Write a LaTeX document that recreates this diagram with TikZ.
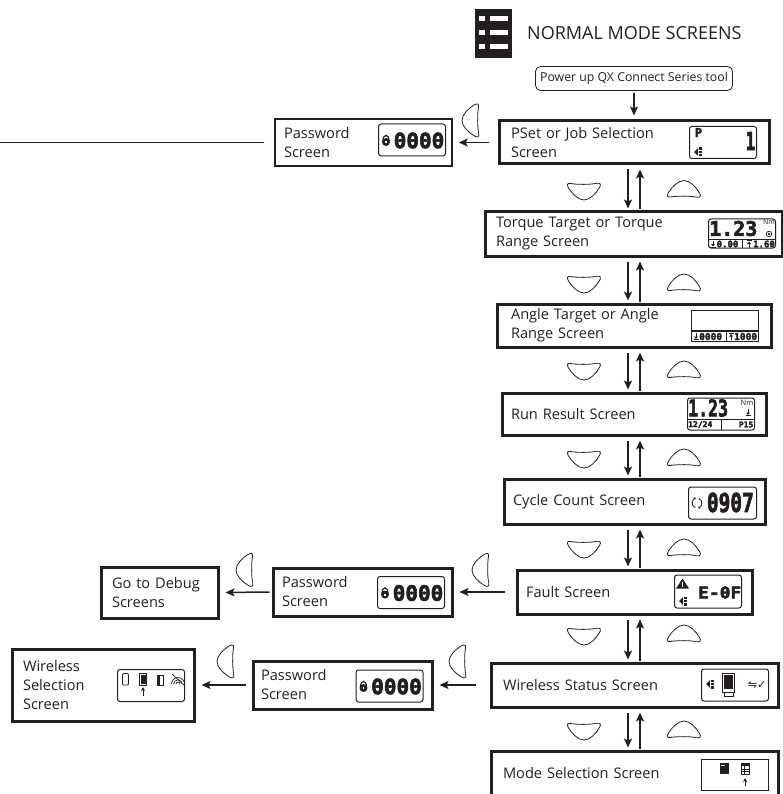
\documentclass[tikz,border=0pt]{standalone}
\usepackage{fontspec}
\setmainfont{Open Sans}
\newfontfamily\lcdfont[FakeBold=3]{DejaVu Sans Mono Bold}
\newfontfamily\lcdsym{DejaVu Sans}
\usetikzlibrary{arrows.meta}
\definecolor{ink}{HTML}{231F20}
\tikzset{
  screenbox/.style n args={3}{draw=ink, line width=3pt, inner ysep=0pt, inner xsep=#3pt,
    text width=#1pt-2*#3pt, minimum height=#2pt, align=left, text=ink,
    font=\fontsize{14.6}{19}\selectfont},
  thinbox/.style={line width=1.5pt},
  lcdframe/.style={draw=ink, line width=1pt, rounded corners=2.5pt, inner sep=0pt},
  lcdsquare/.style={draw=ink, line width=1pt, inner sep=0pt},
  lcdtxt/.style={inner sep=0pt, text=ink, font=\lcdfont\fontsize{#1}{#1}\selectfont},
  lcdsmall/.style={inner sep=0pt, text=ink, font=\fontsize{#1}{#1}\selectfont},
  lcdicon/.style={inner sep=0pt, text=ink, font=\lcdsym\fontsize{#1}{#1}\selectfont},
  flow/.style={draw=ink, line width=1.5pt, -{Stealth[length=9pt,width=8pt,inset=2pt]}},
  dnflow/.style={flow, shorten <=4pt, shorten >=2pt},
  upflow/.style={flow, shorten <=1pt, shorten >=4pt},
  sideflow/.style={flow, shorten <=#1pt, shorten >=6pt},
  softkey/.pic={
    \draw[draw=ink, line width=0.8pt] (-13.5,-7.5) .. controls (-7,-6.3) and (7,-6.3) .. (13,-7.8)
      .. controls (16,-8.5) and (17.5,-6.5) .. (15.5,-3.5) .. controls (12,2.5) and (6,9) .. (0,9)
      .. controls (-6,9) and (-12,2.5) .. (-15.5,-3) .. controls (-17.5,-6.5) and (-16.5,-8.2) .. (-13.5,-7.5) -- cycle;
  },
  antenna/.pic={
    \fill[ink] (-4,0) -- (0,-4) -- (0,4) -- cycle;
    \fill[ink] (0.8,-4.5) rectangle (3.6,-2.3);
    \fill[ink] (0.8,-1.1) rectangle (3.6,1.1);
    \fill[ink] (0.8,2.3) rectangle (3.6,4.5);
  },
  lowmark/.pic={
    \draw[ink, line width=0.8pt] (0,-3.5) -- (0,1);
    \fill[ink] (-2,0) -- (2,0) -- (0,2.5) -- cycle;
    \draw[ink, line width=0.8pt] (-2.5,3.2) -- (2.5,3.2);
  },
  highmark/.pic={
    \draw[ink, line width=0.8pt] (0,3.5) -- (0,-1);
    \fill[ink] (-2,0) -- (2,0) -- (0,-2.5) -- cycle;
    \draw[ink, line width=0.8pt] (-2.5,-3.2) -- (2.5,-3.2);
  },
  passlcd/.pic={
    \node[lcdframe, minimum width=67pt, minimum height=32pt] (-frame) at (0,0) {};
    \fill[ink] (-26,2) circle (4pt);
    \draw[ink, line width=1.2pt] (-29,1) .. controls (-29,-6.5) and (-23,-6.5) .. (-23,1);
    \fill[white] (-26.6,1) rectangle (-25.4,3.2);
    \node[lcdtxt=21, anchor=east] (-digits) at (32.5,0.5) {0000};
  },
}
\begin{document}
\begin{tikzpicture}[x=1pt,y=-1pt]
    \useasboundingbox (0,0) rectangle (782,794);

    \fill[ink] (475,9) rectangle (512,58);
    \fill[white] (479,16) rectangle (485,21);
    \fill[white] (490,16) rectangle (508,21);
    \fill[white] (479,30) rectangle (485,35);
    \fill[white] (490,30) rectangle (508,35);
    \fill[white] (479,44) rectangle (485,49);
    \fill[white] (490,44) rectangle (508,49);
    \node[anchor=west, inner sep=0pt, text=ink, font=\fontsize{18}{22}\selectfont] (title) at (527,33) {NORMAL MODE SCREENS};

    \node[draw=ink, line width=0.8pt, rounded corners=5pt, inner sep=0pt, minimum width=197pt, minimum height=24pt, text=ink, font=\fontsize{12.3}{15}\selectfont] (powerup) at (634,78.5) {Power up QX Connect Series tool};

    \node[screenbox={270}{43}{12}] (pset) at (634,142.5) {PSet or Job Selection\\Screen};
    \node[screenbox={297}{44}{11}] (torque) at (633.5,234) {Torque Target or Torque\\Range Screen};
    \node[screenbox={274}{43}{14}] (angle) at (634,325.5) {Angle Target or Angle\\Range Screen};
    \node[screenbox={264}{42}{9}] (runresult) at (634,414) {Run Result Screen};
    \node[screenbox={261}{45}{9}] (cycle) at (634.5,501.5) {Cycle Count Screen};
    \node[screenbox={235}{44}{9}] (fault) at (634.5,592) {Fault Screen};
    \node[screenbox={287}{44}{12}] (wstatus) at (634.5,685) {Wireless Status Screen};
    \node[screenbox={287}{46}{12}] (modesel) at (634.5,774) {\raisebox{3pt}{Mode Selection Screen}};
    \node[screenbox={177}{47}{9}, thinbox] (passa) at (363.5,142.5) {Password\\Screen};
    \node[screenbox={179}{48}{9}] (passb) at (362.5,592) {Password\\Screen};
    \node[screenbox={179}{48}{8}] (passc) at (342.5,685) {Password\\Screen};
    \node[screenbox={117}{51}{11}] (debug) at (159.5,592.5) {Go to Debug\\Screens};
    \node[screenbox={182}{72}{11}] (wselect) at (103,685) {Wireless\\Selection\\Screen};

    \coordinate (dnline) at (628,0);
    \coordinate (upline) at (640,0);
    \coordinate (offpage) at (0,142.5);

    \draw[flow, shorten <=2pt, shorten >=4pt] (powerup.south) -- (pset.north);
    \draw[dnflow] (pset.south -| dnline) -- (torque.north -| dnline);
    \draw[upflow] (torque.north -| upline) -- (pset.south -| upline);
    \draw[dnflow] (torque.south -| dnline) -- (angle.north -| dnline);
    \draw[upflow] (angle.north -| upline) -- (torque.south -| upline);
    \draw[dnflow] (angle.south -| dnline) -- (runresult.north -| dnline);
    \draw[upflow] (runresult.north -| upline) -- (angle.south -| upline);
    \draw[dnflow] (runresult.south -| dnline) -- (cycle.north -| dnline);
    \draw[upflow] (cycle.north -| upline) -- (runresult.south -| upline);
    \draw[dnflow] (cycle.south -| dnline) -- (fault.north -| dnline);
    \draw[upflow] (fault.north -| upline) -- (cycle.south -| upline);
    \draw[dnflow] (fault.south -| dnline) -- (wstatus.north -| dnline);
    \draw[upflow] (wstatus.north -| upline) -- (fault.south -| upline);
    \draw[dnflow] (wstatus.south -| dnline) -- (modesel.north -| dnline);
    \draw[upflow] (modesel.north -| upline) -- (wstatus.south -| upline);
    \draw[sideflow=9] (pset.west) -- (passa.east);
    \draw[sideflow=11] (fault.west) -- (passb.east);
    \draw[sideflow=2] (passb.west) -- (debug.east);
    \draw[sideflow=14] (wstatus.west) -- (passc.east);
    \draw[sideflow=6] (passc.west) -- (wselect.east);
    \draw[draw=ink, line width=1.5pt, shorten <=10pt] (passa.west) -- (offpage);

    \pic at (584,191) {softkey};
    \pic at (584,284) {softkey};
    \pic at (584,371) {softkey};
    \pic at (584,459) {softkey};
    \pic at (584,549) {softkey};
    \pic at (584,636) {softkey};
    \pic at (584,731) {softkey};
    \pic[yscale=-1] at (684,189.5) {softkey};
    \pic[yscale=-1] at (684,283) {softkey};
    \pic[yscale=-1] at (684,370) {softkey};
    \pic[yscale=-1] at (684,458) {softkey};
    \pic[yscale=-1] at (684,548) {softkey};
    \pic[yscale=-1] at (684,634) {softkey};
    \pic[yscale=-1] at (684,730) {softkey};
    \pic[rotate=-90] at (471,120.5) {softkey};
    \pic[rotate=-90] at (481,570) {softkey};
    \pic[rotate=-90] at (245,570) {softkey};
    \pic[rotate=-90] at (458,661.5) {softkey};
    \pic[rotate=-90] at (226,661.5) {softkey};

    \pic (passlcda) at (412,140) {passlcd};
    \pic (passlcdb) at (411,592.5) {passlcd};
    \pic (passlcdc) at (389.5,686) {passlcd};

    \node[lcdframe, minimum width=67pt, minimum height=32pt] (psetlcd) at (723,142.5) {};
    \node[lcdtxt=12] (psetp) at (698.5,132.5) {P};
    \node[lcdtxt=25, anchor=east, xscale=0.65, transform shape] (psetnum) at (755.5,141) {1};
    \pic at (698,152) {antenna};

    \node[lcdframe, minimum width=67pt, minimum height=29pt] (torquelcd) at (742,233.5) {};
    \node[lcdtxt=20, anchor=west] (torqueval) at (709,228.5) {1.23};
    \node[lcdsmall=7, anchor=east] (torqueunit) at (775,222.5) {Nm};
    \draw[ink, line width=0.7pt] (769,234) circle (2.8pt);
    \fill[ink] (769,234) circle (1.4pt);
    \draw[ink, line width=1pt] (708.5,239.5) -- (775.5,239.5);
    \draw[ink, line width=1pt] (742,239.5) -- (742,248);
    \pic at (713,244) {lowmark};
    \node[lcdtxt=9, anchor=west] (torquelow) at (716.5,244) {0.00};
    \pic at (749,244) {highmark};
    \node[lcdtxt=9, anchor=east] (torquehigh) at (775,244) {1.60};

    \node[lcdsquare, minimum width=67pt, minimum height=31pt] (anglelcd) at (725,325.5) {};
    \draw[ink, line width=1.5pt] (691.5,331) -- (758.5,331);
    \draw[ink, line width=1pt] (726,331) -- (726,341);
    \pic at (696,336.5) {lowmark};
    \node[lcdtxt=9.5, anchor=west] (anglelow) at (699,336.5) {0000};
    \pic at (731,336.5) {highmark};
    \node[lcdtxt=9.5, anchor=west] (anglehigh) at (734,336.5) {1000};

    \node[lcdframe, minimum width=67pt, minimum height=32pt] (runlcd) at (721,414) {};
    \node[lcdtxt=23, anchor=west, xscale=0.72, transform shape] (runval) at (688,408) {1.23};
    \node[lcdsmall=7.5, anchor=east] (rununit) at (753.5,403) {Nm};
    \pic at (748,412.5) {lowmark};
    \draw[ink, line width=1pt] (687.5,419) -- (754.5,419);
    \draw[ink, line width=1pt] (721,419) -- (721,430);
    \node[lcdtxt=8, anchor=west] (runcount) at (688,424.5) {12/24};
    \node[lcdtxt=8, anchor=east] (runpset) at (753.5,424.5) {P15};

    \node[lcdframe, minimum width=68pt, minimum height=32pt] (cyclelcd) at (722.5,503) {};
    \draw[ink, line width=0.8pt, -{Stealth[length=2.5pt,width=2.5pt]}] (695.3,507.7) arc[start angle=250, end angle=100, radius=5pt];
    \draw[ink, line width=0.8pt, -{Stealth[length=2.5pt,width=2.5pt]}] (698.7,498.3) arc[start angle=70, end angle=-80, radius=5pt];
    \node[lcdtxt=26, anchor=east, xscale=0.75, transform shape] (cycleval) at (754,502.5) {0907};

    \node[lcdframe, minimum width=67pt, minimum height=33pt] (faultlcd) at (708,591.5) {};
    \fill[ink] (682.5,578.5) -- (689,588.5) -- (676,588.5) -- cycle;
    \fill[white] (682,582) rectangle (683,585.5);
    \fill[white] (682,586.2) rectangle (683,587.2);
    \pic at (683,601) {antenna};
    \node[lcdtxt=16, anchor=east, xscale=1.12, transform shape] (faultcode) at (741.5,592.5) {E-0F};

    \node[lcdframe, minimum width=67pt, minimum height=32pt] (wstatuslcd) at (735,685) {};
    \pic at (710,684) {antenna};
    \draw[ink, line width=0.7pt] (722.5,673.5) rectangle (734.5,692);
    \fill[ink] (724,675) rectangle (733,689);
    \draw[ink, line width=0.7pt] (724,692) -- (724,696) -- (733,696) -- (733,692);
    \node[lcdicon=11, anchor=east] (wstatuslink) at (766.5,685) {⇋✓};

    \node[lcdsquare, minimum width=67pt, minimum height=31pt] (modelcd) at (734.5,774.5) {};
    \fill[ink] (720,763) rectangle (729,774);
    \fill[white] (721,764.5) rectangle (725,765.5);
    \draw[ink, line width=0.8pt] (741.5,763.5) rectangle (749.5,774);
    \fill[ink] (741.5,763.5) rectangle (749.5,766);
    \draw[ink, line width=0.6pt] (741.5,769) -- (749.5,769);
    \draw[ink, line width=0.6pt] (741.5,771.5) -- (749.5,771.5);
    \draw[ink, line width=0.6pt] (744,766) -- (744,774);
    \coordinate (modetip) at (745,778);
    \coordinate (modetail) at (745,786);
    \draw[ink, line width=1pt, -{Stealth[length=4pt,width=4pt]}] (modetail) -- (modetip);

    \node[lcdframe, minimum width=67pt, minimum height=32pt] (wselectlcd) at (151,685.5) {};
    \draw[ink, line width=0.7pt, rounded corners=1pt] (122.5,673.5) rectangle (128.5,685);
    \draw[ink, line width=0.7pt] (139.5,673.5) rectangle (146.5,685);
    \fill[ink] (140.5,674.5) rectangle (145.5,684);
    \draw[ink, line width=0.7pt] (157.5,675.5) rectangle (163,685);
    \fill[ink] (157.5,675.5) rectangle (160,685);
    \draw[ink, line width=0.7pt] (171.5,684) arc[start angle=180, end angle=0, radius=6.5pt];
    \draw[ink, line width=0.7pt] (173.8,684) arc[start angle=180, end angle=0, radius=4.2pt];
    \draw[ink, line width=0.7pt] (176,684) arc[start angle=180, end angle=0, radius=2pt];
    \draw[ink, line width=0.7pt] (172,674) -- (184,685);
    \coordinate (wselecttip) at (143,687);
    \coordinate (wselecttail) at (143,696);
    \draw[ink, line width=1pt, -{Stealth[length=4pt,width=4pt]}] (wselecttail) -- (wselecttip);
\end{tikzpicture}
\end{document}
